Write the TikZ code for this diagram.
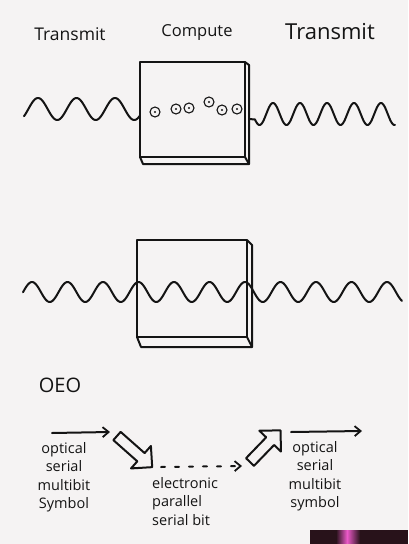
\documentclass[tikz,border=0pt]{standalone}
\usepackage{fontspec}
\setmainfont{Open Sans}
\usetikzlibrary{arrows.meta}
\definecolor{paper}{RGB}{245,243,243}
\definecolor{ink}{RGB}{20,20,20}
\definecolor{darkstrip}{RGB}{40,18,26}
\definecolor{glow}{RGB}{235,90,200}
\begin{document}
\begin{tikzpicture}[x=1pt,y=-1pt,
  every path/.style={line cap=round,line join=round},
  pen/.style={draw=ink,line width=2pt},
  lbl/.style={text=ink,inner sep=0pt},
  words/.style={text=ink,inner sep=0pt,font=\fontsize{14.5}{18.5}\selectfont},
  bead/.style={circle,draw=ink,line width=1.1pt,minimum size=10pt,inner sep=0pt},
  barb/.style={-{Straight Barb[length=6pt,width=10pt,line width=1.8pt]}}]
\useasboundingbox (0,0) rectangle (408,544);
\fill[paper] (0,0) rectangle (408,544);

% titles
\node[lbl,font=\fontsize{17.5}{17.5}\selectfont] (t1) at (70,34) {Transmit};
\node[lbl,font=\fontsize{16.5}{16.5}\selectfont] (t2) at (197,33) {Compute};
\node[lbl,font=\fontsize{22}{22}\selectfont] (t3) at (330,32) {Transmit};

% top box (slab)
\draw[pen] (140,62) rectangle (245,157);
\draw[pen] (245,62) -- (249,65) -- (249,164) -- (143,164) -- (140,157);
\draw[pen] (245,157) -- (249,164);

% top waves
\draw[pen] plot[domain=24:140,samples=160] (\x,{109-11*cos(9.3506*(\x-38))});
\draw[pen] (249,119) -- plot[domain=255:395,samples=200] (\x,{114-11*cos(13.3333*(\x-273))});

% beads
\foreach \n/\px/\py in {1/155/112,2/176/109,3/189/108,4/209/102,5/222/110,6/237/109}{
  \node[bead] (c\n) at (\px,\py) {};
  \fill[ink] (c\n) circle (1.2pt);
}

% bottom box (slab)
\draw[pen] (137,240) rectangle (247,337);
\draw[pen] (247,240) -- (252,245) -- (252,347) -- (141,347) -- (137,337);
\draw[pen] (247,337) -- (252,347);

% bottom wave
\draw[pen] plot[domain=23:402,samples=400] (\x,{292-10*cos(10.1408*(\x-32))});

% OEO
\node[lbl,font=\fontsize{20}{20}\selectfont] (oeo) at (60,385) {OEO};

% left optical arrow
\coordinate (la1) at (52,433);
\coordinate (la2) at (110,432);
\draw[pen,barb] (la1) -- (la2);
\node[words,align=center] (ltxt) at (64,477) {optical\\serial\\multibit\\Symbol};

% block arrow down-right
\begin{scope}[shift={(117,436)},rotate=-41.5]
  \draw[pen] (0,-5.5) -- (32,-5.5) -- (32,-15) -- (47,0) -- (32,15) -- (32,5.5) -- (0,5.5) -- cycle;
\end{scope}

% dashed electronic arrow
\coordinate (e1) at (161,467);
\coordinate (e2) at (242,466);
\draw[pen,dash pattern=on 4pt off 10pt,barb] (e1) -- (e2);
\node[words,align=left,anchor=north west] (mtxt) at (152,477) {electronic\\parallel\\serial bit};

% block arrow up-right
\begin{scope}[shift={(250,462)},rotate=46]
  \draw[pen] (0,-5.5) -- (29,-5.5) -- (29,-15) -- (44,0) -- (29,15) -- (29,5.5) -- (0,5.5) -- cycle;
\end{scope}

% right optical arrow
\coordinate (ra1) at (291,432);
\coordinate (ra2) at (362,431);
\draw[pen,barb] (ra1) -- (ra2);
\node[words,align=center] (rtxt) at (315,476) {optical\\serial\\multibit\\symbol};

% dark strip bottom right
\fill[darkstrip] (310,530) rectangle (408,544);
\shade[left color=darkstrip,right color=glow] (336,530) rectangle (347,544);
\shade[left color=glow,right color=darkstrip] (347,530) rectangle (360,544);
\end{tikzpicture}
\end{document}
